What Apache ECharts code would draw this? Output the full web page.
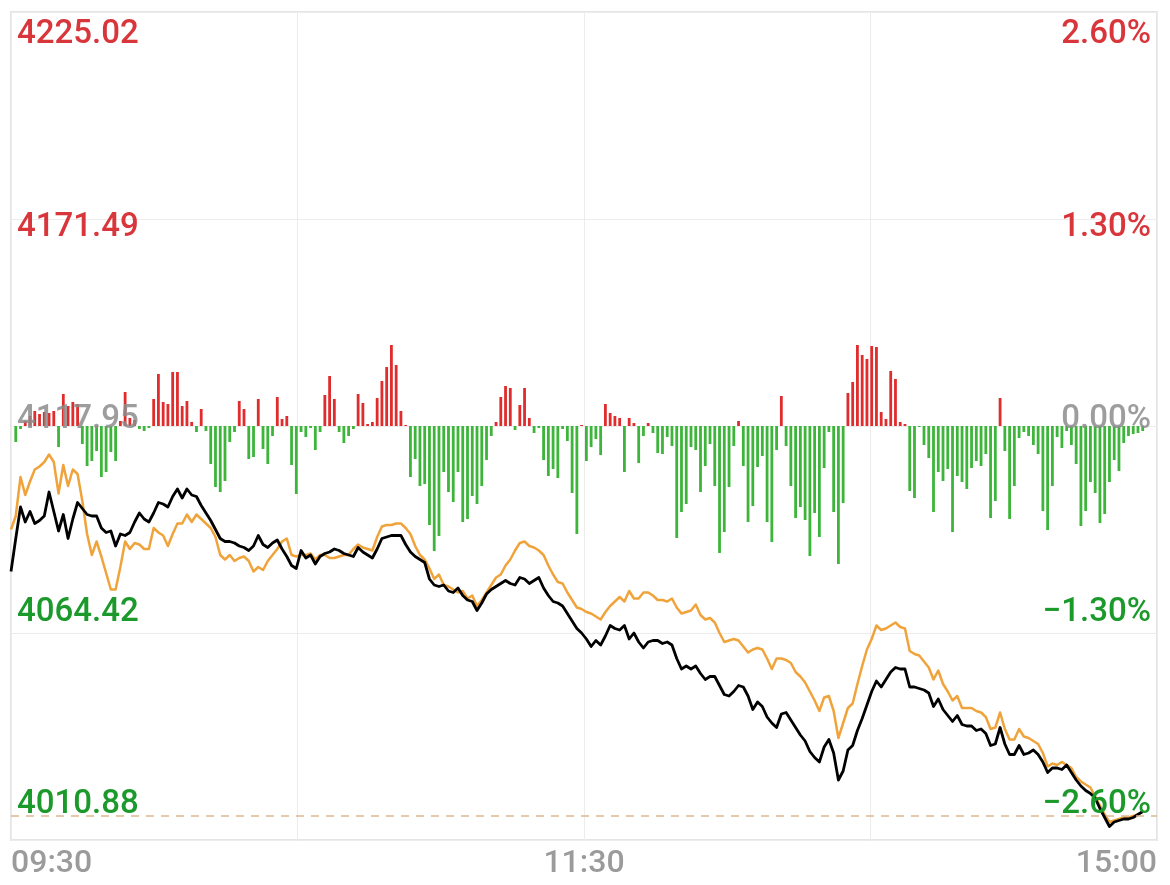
<!DOCTYPE html>
<html>
<head>
<meta charset="utf-8">
<script src="https://cdn.jsdelivr.net/npm/echarts@6/dist/echarts.min.js"></script>
<style>html,body{margin:0;padding:0;background:#fff}#c{width:1170px;height:885px}</style>
</head>
<body>
<div id="c"></div>
<script>
// ---- data ----
// trading minutes: 09:30-11:30 and 13:00-15:00
const times = (function () {
  const out = [];
  const pad = n => (n < 10 ? '0' : '') + n;
  for (let m = 9 * 60 + 30; m <= 11 * 60 + 30; m++) out.push(pad(Math.floor(m / 60)) + ':' + pad(m % 60));
  for (let m = 13 * 60; m <= 15 * 60; m++) out.push(pad(Math.floor(m / 60)) + ':' + pad(m % 60));
  return out;
})();

// index change vs previous close (%), per minute
const pricePct = [
 -0.97,-0.75,-0.54,-0.64,-0.57,-0.65,-0.63,-0.60,-0.44,-0.57,
 -0.70,-0.59,-0.75,-0.62,-0.51,-0.55,-0.59,-0.60,-0.60,-0.68,
 -0.71,-0.70,-0.80,-0.72,-0.73,-0.71,-0.64,-0.58,-0.62,-0.64,
 -0.58,-0.51,-0.52,-0.54,-0.47,-0.42,-0.48,-0.42,-0.46,-0.47,
 -0.53,-0.58,-0.63,-0.69,-0.75,-0.77,-0.77,-0.78,-0.80,-0.81,
 -0.83,-0.80,-0.73,-0.79,-0.81,-0.78,-0.76,-0.82,-0.87,-0.93,
 -0.95,-0.83,-0.88,-0.86,-0.92,-0.87,-0.85,-0.84,-0.82,-0.83,
 -0.85,-0.86,-0.87,-0.81,-0.84,-0.86,-0.88,-0.82,-0.75,-0.74,
 -0.73,-0.73,-0.73,-0.79,-0.84,-0.87,-0.89,-0.91,-1.02,-1.06,
 -1.07,-1.06,-1.10,-1.11,-1.08,-1.13,-1.16,-1.17,-1.23,-1.18,
 -1.12,-1.09,-1.07,-1.05,-1.03,-1.05,-1.06,-1.01,-1.02,-1.05,
 -1.03,-1.01,-1.08,-1.13,-1.17,-1.18,-1.20,-1.25,-1.30,-1.35,
 -1.38,
 -1.42,-1.47,-1.43,-1.46,-1.40,-1.33,-1.35,-1.36,-1.33,-1.42,
 -1.38,-1.44,-1.48,-1.44,-1.43,-1.43,-1.45,-1.44,-1.46,-1.55,
 -1.62,-1.60,-1.62,-1.60,-1.65,-1.69,-1.67,-1.67,-1.73,-1.79,
 -1.80,-1.77,-1.73,-1.74,-1.80,-1.89,-1.84,-1.87,-1.94,-1.98,
 -2.01,-1.92,-1.91,-1.96,-2.01,-2.06,-2.10,-2.17,-2.21,-2.24,
 -2.14,-2.09,-2.18,-2.36,-2.30,-2.16,-2.13,-2.03,-1.95,-1.86,
 -1.77,-1.70,-1.74,-1.69,-1.64,-1.61,-1.62,-1.62,-1.74,-1.74,
 -1.75,-1.76,-1.78,-1.87,-1.82,-1.89,-1.93,-1.97,-1.93,-1.99,
 -2.00,-2.00,-2.03,-2.02,-2.05,-2.13,-2.12,-2.01,-2.12,-2.19,
 -2.19,-2.13,-2.19,-2.18,-2.16,-2.19,-2.24,-2.31,-2.28,-2.28,
 -2.29,-2.26,-2.31,-2.36,-2.40,-2.43,-2.45,-2.48,-2.55,-2.61,
 -2.67,-2.64,-2.63,-2.62,-2.62,-2.61,-2.59,-2.57
];

// average-price line (%), per minute
const avgPct = [
 -0.69,-0.60,-0.34,-0.46,-0.37,-0.29,-0.27,-0.24,-0.19,-0.24,
 -0.45,-0.26,-0.40,-0.29,-0.32,-0.50,-0.72,-0.86,-0.77,-0.87,
 -0.98,-1.09,-1.09,-0.94,-0.77,-0.82,-0.78,-0.79,-0.82,-0.82,
 -0.68,-0.71,-0.73,-0.80,-0.72,-0.65,-0.65,-0.59,-0.64,-0.59,
 -0.62,-0.65,-0.68,-0.74,-0.86,-0.89,-0.86,-0.90,-0.88,-0.87,
 -0.90,-0.97,-0.94,-0.96,-0.90,-0.86,-0.82,-0.77,-0.75,-0.86,
 -0.87,-0.86,-0.86,-0.85,-0.89,-0.86,-0.86,-0.88,-0.88,-0.87,
 -0.86,-0.86,-0.82,-0.79,-0.81,-0.82,-0.83,-0.74,-0.67,-0.66,
 -0.66,-0.65,-0.65,-0.68,-0.72,-0.80,-0.86,-0.89,-0.95,-1.02,
 -0.99,-1.06,-1.07,-1.09,-1.11,-1.10,-1.15,-1.13,-1.20,-1.16,
 -1.11,-1.06,-1.01,-0.99,-0.93,-0.89,-0.83,-0.78,-0.77,-0.80,
 -0.81,-0.83,-0.86,-0.93,-0.99,-1.04,-1.05,-1.11,-1.16,-1.21,
 -1.22,
 -1.24,-1.25,-1.27,-1.29,-1.24,-1.20,-1.17,-1.14,-1.17,-1.10,
 -1.15,-1.15,-1.11,-1.11,-1.13,-1.16,-1.16,-1.17,-1.15,-1.21,
 -1.25,-1.24,-1.23,-1.19,-1.26,-1.29,-1.28,-1.31,-1.38,-1.44,
 -1.43,-1.42,-1.43,-1.47,-1.51,-1.49,-1.48,-1.49,-1.55,-1.62,
 -1.55,-1.55,-1.56,-1.58,-1.64,-1.67,-1.71,-1.77,-1.83,-1.90,
 -1.81,-1.80,-1.90,-2.08,-1.98,-1.88,-1.85,-1.72,-1.60,-1.49,
 -1.42,-1.33,-1.36,-1.35,-1.33,-1.31,-1.34,-1.35,-1.50,-1.52,
 -1.53,-1.57,-1.61,-1.69,-1.63,-1.72,-1.77,-1.83,-1.80,-1.88,
 -1.88,-1.88,-1.90,-1.91,-1.94,-2.02,-2.01,-1.91,-2.02,-2.09,
 -2.09,-2.02,-2.07,-2.08,-2.10,-2.12,-2.18,-2.27,-2.25,-2.26,
 -2.24,-2.26,-2.28,-2.34,-2.37,-2.39,-2.41,-2.47,-2.53,-2.59,
 -2.64,-2.63,-2.62,-2.61,-2.61,-2.60,-2.59,-2.57
];

// per-minute bars (positive = red, negative = green), arbitrary units
const flow = [
 0,-16,-3,5,10,15,12,14,13,15,
 -21,32,20,24,22,-18,-40,-35,-25,-51,
 -46,-26,-35,5,34,8,6,-3,-5,-2,
 27,52,24,22,54,54,20,25,4,-6,
 17,-5,-38,-61,-66,-55,-16,-6,25,17,
 -33,-31,27,-23,-38,-10,29,7,10,-39,
 -68,-6,-11,-2,-24,-6,31,50,27,-6,
 -17,-10,-3,32,23,2,4,28,45,59,
 81,61,15,1,-51,-33,-60,-58,-99,-125,
 -110,-46,-66,-76,-46,-96,-93,-70,-78,-60,
 -34,-10,4,29,40,38,-4,21,38,8,
 -7,-2,-34,-50,-43,-52,-3,-15,-67,-108,
 1,-35,-21,-13,-29,22,13,10,8,-46,
 8,3,-37,-10,3,-7,-27,-28,-11,-20,
 -112,-86,-78,-21,-24,-66,-40,-18,-60,-127,
 -106,-61,-20,5,-40,-96,-80,-41,-30,-96,
 -116,-24,30,-20,-60,-92,-81,-94,-130,-87,
 -111,-42,-6,-86,-138,-77,33,44,81,71,
 67,80,79,14,7,55,47,4,2,-65,
 -72,-1,-19,-32,-86,-46,-55,-43,-106,-50,
 -56,-63,-42,-35,-40,-28,-92,-75,28,-25,
 -93,-60,-12,-6,-10,-19,-28,-85,-104,-60,
 -11,-22,-5,-19,-38,-100,-85,-56,-67,-97,
 -88,-56,-34,-45,-17,-10,-8,-7,-5
];

const tickPct = [2.6, 1.3, 0, -1.3, -2.6];
const leftTickLabels = ['4225.02', '4171.49', '4117.95', '4064.42', '4010.88'];
const rightTickLabels = ['2.60%', '1.30%', '0.00%', '\u22121.30%', '\u22122.60%'];
const xTickLabels = ['09:30', '11:30', '15:00'];
const dashLevelPct = -2.6;

// ---- styling ----
const RED = '#d8363b', GREEN = '#1b992b', GRAY = 'rgba(140,140,140,0.85)';
const BAR_RED = '#e02c2c', BAR_GREEN = '#3db53a';
const FONT = 'Roboto';
const RANGE = 2.76;
const labelNudge = [0.007, 0.023, 0.04, 0.057, 0.073];
const labelAt = tickPct.map((v, k) => v + labelNudge[k]);
const nearestTick = v => {
  let best = 0;
  for (let k = 1; k < tickPct.length; k++) if (Math.abs(labelAt[k] - v) < Math.abs(labelAt[best] - v)) best = k;
  return best;
};
const cls = k => tickPct[k] > 0 ? 'up' : (tickPct[k] < 0 ? 'dn' : 'zr');
const rich = {
  up: { color: RED, fontSize: 33, fontFamily: FONT, fontWeight: 500 },
  dn: { color: GREEN, fontSize: 33, fontFamily: FONT, fontWeight: 500 },
  zr: { color: GRAY, fontSize: 33, fontFamily: FONT, fontWeight: 500 }
};
const n = times.length; // 242

const chart = echarts.init(document.getElementById('c'), null, { renderer: 'canvas' });
chart.setOption({
  animation: false,
  backgroundColor: '#ffffff',
  grid: { left: 11, right: 13, top: 12, bottom: 45, show: true, borderColor: '#e4e4e4', borderWidth: 2, backgroundColor: 'transparent' },
  xAxis: {
    type: 'value', min: 0, max: n - 1, interval: (n - 1) / 4,
    axisLine: { show: false }, axisTick: { show: false },
    splitLine: { show: true, lineStyle: { color: '#ececec', width: 1 } },
    axisLabel: {
      margin: 8, fontSize: 32, fontFamily: FONT, fontWeight: 500, color: '#9b9b9b',
      alignMinLabel: 'left', alignMaxLabel: 'right',
      formatter: v => {
        if (Math.abs(v) < 1e-6) return xTickLabels[0];
        if (Math.abs(v - (n - 1) / 2) < 1e-6) return xTickLabels[1];
        if (Math.abs(v - (n - 1)) < 1e-6) return xTickLabels[2];
        return '';
      }
    }
  },
  yAxis: [
    { type: 'value', position: 'left', min: -RANGE, max: RANGE, z: 10,
      axisLine: { show: false }, axisTick: { show: false }, splitLine: { show: false },
      axisLabel: { inside: true, margin: 6, customValues: labelAt,
        formatter: v => { const k = nearestTick(v); return '{' + cls(k) + '|' + leftTickLabels[k] + '}'; }, rich } },
    { type: 'value', position: 'right', min: -RANGE, max: RANGE, z: 10,
      axisLine: { show: false }, axisTick: { show: false }, splitLine: { show: false },
      axisLabel: { inside: true, margin: 6, customValues: labelAt,
        formatter: v => { const k = nearestTick(v); return '{' + cls(k) + '|' + rightTickLabels[k] + '}'; }, rich } },
    { type: 'value', position: 'left', min: -RANGE, max: RANGE, interval: RANGE / 2,
      axisLine: { show: false }, axisTick: { show: false }, axisLabel: { show: false },
      splitLine: { show: true, lineStyle: { color: '#ececec', width: 1 } } },
    { type: 'value', position: 'right', min: -414, max: 414, show: false }
  ],
  series: [
    { type: 'bar', xAxisIndex: 0, yAxisIndex: 3, barWidth: 2.8, z: 2,
      data: flow.map((v, j) => [j, v]),
      itemStyle: { color: p => (p.value[1] >= 0 ? BAR_RED : BAR_GREEN) } },
    { type: 'line', xAxisIndex: 0, yAxisIndex: 1, z: 3, showSymbol: false, symbol: 'none',
      data: avgPct.map((v, j) => [j, v]),
      lineStyle: { color: '#f0a33a', width: 2.5, join: 'round' } },
    { type: 'line', xAxisIndex: 0, yAxisIndex: 1, z: 4, showSymbol: false, symbol: 'none',
      data: pricePct.map((v, j) => [j, v]),
      lineStyle: { color: '#000000', width: 2.8, join: 'round' },
      markLine: { silent: true, symbol: ['none', 'none'], label: { show: false },
        lineStyle: { type: [8, 7], color: '#deb68e', width: 1.5 },
        data: [{ yAxis: dashLevelPct }] } }
  ]
});
</script>
</body>
</html>
